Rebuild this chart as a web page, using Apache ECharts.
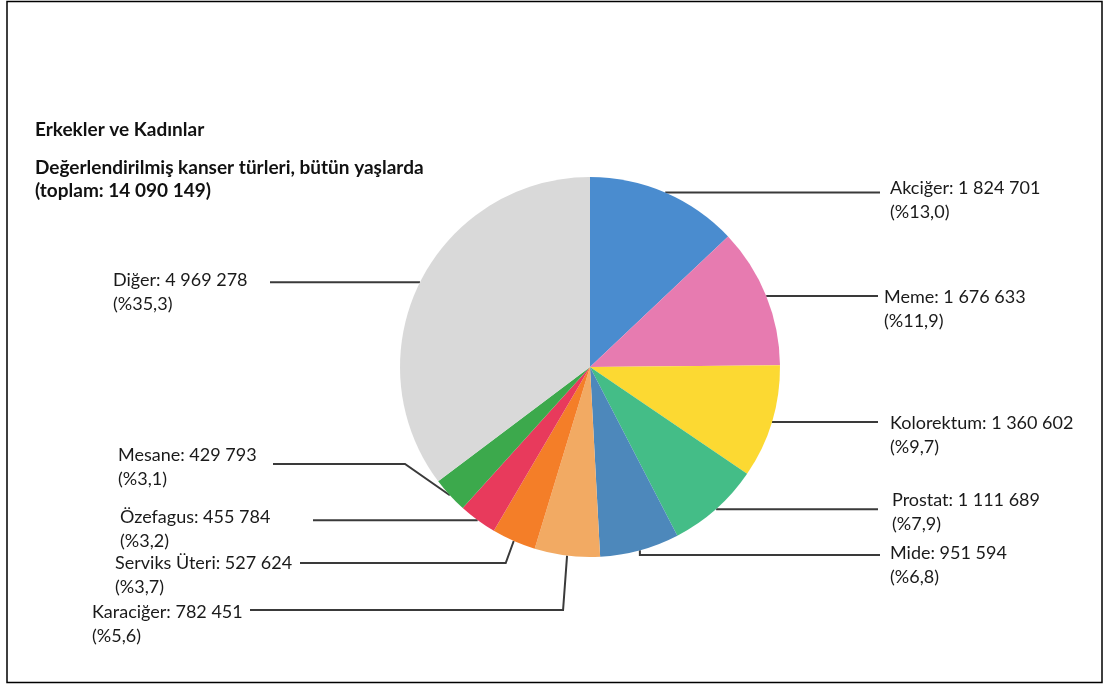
<!DOCTYPE html>
<html>
<head>
<meta charset="utf-8">
<script src="https://cdn.jsdelivr.net/npm/echarts@6/dist/echarts.min.js"></script>
<style>
  html, body { margin: 0; padding: 0; background: #ffffff; }
  #chart { width: 1105px; height: 686px; }
</style>
</head>
<body>
<div id="chart"></div>
<script>
// ---- data ----
const categories = ['Akciğer', 'Meme', 'Kolorektum', 'Prostat', 'Mide', 'Karaciğer', 'Serviks Üteri', 'Özefagus', 'Mesane', 'Diğer'];
const values = [1824701, 1676633, 1360602, 1111689, 951594, 782451, 527624, 455784, 429793, 4969278];
const percentLabels = ['13,0', '11,9', '9,7', '7,9', '6,8', '5,6', '3,7', '3,2', '3,1', '35,3'];
const titleLine1 = 'Erkekler ve Kadınlar';
const titleLine2 = 'Değerlendirilmiş kanser türleri, bütün yaşlarda';
const titleLine3 = '(toplam: 14 090 149)';

// ---- styling / layout (not data) ----
const colors = ['#4a8ccf', '#e77bb0', '#fcd932', '#44bd87', '#4d88bb', '#f2aa63', '#f47e28', '#e83a5c', '#3ca94c', '#d9d9d9'];
// label text position (left, first-line centre) and line path
const place = [
  { tx: 890, ty: 188, endX: 880 },
  { tx: 884, ty: 297, endX: 878 },
  { tx: 890, ty: 423, endX: 878 },
  { tx: 892, ty: 500, endX: 878 },
  { tx: 890, ty: 553, endX: 880, lineY: 555 },
  { tx: 92,  ty: 612, endX: 250, lineY: 610, elbowDx: -4 },
  { tx: 115, ty: 563, endX: 300, lineY: 563, elbowDx: -8 },
  { tx: 120, ty: 517, endX: 313 },
  { tx: 118, ty: 455, endX: 273, lineY: 464, elbowX: 405 },
  { tx: 113, ty: 280, endX: 270 }
];
const LINE_H = 24;

function fmtNum(v) {
  return String(v).replace(/\B(?=(\d{3})+(?!\d))/g, ' ');
}

const chart = echarts.init(document.getElementById('chart'), null, { renderer: 'canvas' });

const titleStyle = { fontFamily: 'Lato', fontWeight: 'bold', fontSize: 19, color: '#111', lineHeight: 23 };

const option = {
  backgroundColor: '#ffffff',
  animation: false,
  title: [
    { text: titleLine1, left: 35, top: 118.5, padding: 0, textStyle: titleStyle },
    { text: titleLine2 + '\n' + titleLine3, left: 35, top: 156.5, padding: 0, textStyle: titleStyle }
  ],
  graphic: [
    {
      type: 'rect', silent: true,
      shape: { x: 7, y: 1.5, width: 1095, height: 681 },
      style: { fill: 'none', stroke: '#000', lineWidth: 1.5 }
    }
  ],
  series: [
    {
      type: 'pie',
      center: [590, 367],
      radius: 190,
      startAngle: 90,
      clockwise: true,
      avoidLabelOverlap: false,
      data: categories.map((c, i) => ({ name: c, value: values[i], itemStyle: { color: colors[i] } })),
      itemStyle: { borderWidth: 0 },
      label: {
        show: true,
        position: 'outside',
        fontFamily: 'Lato',
        fontSize: 18,
        color: '#1a1a1a',
        lineHeight: LINE_H,
        align: 'left',
        formatter: function (p) {
          return p.name + ': ' + fmtNum(p.value) + '\n(%' + percentLabels[p.dataIndex] + ')';
        }
      },
      labelLine: {
        show: true,
        length: 10,
        length2: 10,
        smooth: false,
        lineStyle: { color: '#3a3a3a', width: 2 }
      },
      labelLayout: function (params) {
        const i = params.dataIndex;
        const p = place[i];
        const pts = params.labelLinePoints || [[0, 0]];
        const start = pts[0];
        const ly = p.lineY != null ? p.lineY : start[1];
        const path = [[start[0], start[1]]];
        if (p.elbowX != null) {
          path.push([p.elbowX, ly]);
        } else if (p.elbowDx != null) {
          path.push([start[0] + p.elbowDx, ly]);
        } else if (ly !== start[1]) {
          path.push([start[0], ly]);
        }
        path.push([p.endX, ly]);
        return {
          x: p.tx,
          y: p.ty - LINE_H / 2,
          align: 'left',
          verticalAlign: 'top',
          labelLinePoints: path
        };
      }
    }
  ]
};

chart.setOption(option);
</script>
</body>
</html>
